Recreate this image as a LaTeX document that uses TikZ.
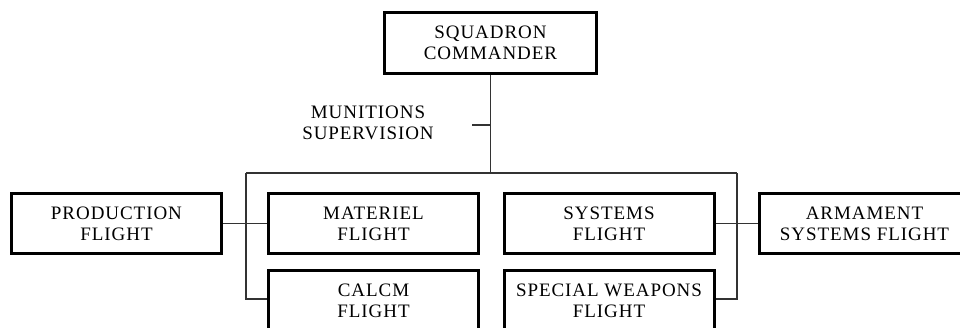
\documentclass[tikz,border=0pt]{standalone}
\usepackage{fontspec}
\setmainfont[LetterSpace=5]{Liberation Serif}
\usetikzlibrary{positioning}

\begin{document}
\begin{tikzpicture}[x=1pt, y=-1pt, font=\fontsize{19}{21}\selectfont,
	box/.style={draw, line width=3pt, minimum width=210pt, minimum height=60pt, inner sep=0pt, align=center},
	wire/.style={draw=black!80, line width=1.4pt}]

\useasboundingbox (0, 0) rectangle (960, 327);
\clip (0, 0) rectangle (960, 327);

%\draw[xstep=10pt,ystep=10pt,color=gray!30] (0, 0) grid (960, 327);

\node[box, minimum width=212pt, minimum height=61pt] (sqn) at (490.5, 43) {SQUADRON\\COMMANDER};

\node[align=center] (muns) at (368, 122.5) {MUNITIONS\\SUPERVISION};

\node[box] (prod) at (116.5, 223.5) {PRODUCTION\\FLIGHT};
\node[box] (matl) at (373.5, 223.5) {MATERIEL\\FLIGHT};
\node[box] (syst) at (609, 223.5) {SYSTEMS\\FLIGHT};
\node[box] (arms) at (864.5, 223.5) {ARMAMENT\\SYSTEMS FLIGHT};

\node[box] (calcm) at (373.5, 300.5) {CALCM\\FLIGHT};
\node[box] (spwf) at (609, 300.5) {SPECIAL WEAPONS\\FLIGHT};

	\coordinate (busL) at (246, 173);
	\coordinate (busR) at (737, 173);
	\coordinate (tick) at (472, 125);

\draw[wire] (sqn.south) -- (sqn.south |- busL);
\draw[wire] (tick) -- (tick -| sqn.south);
\draw[wire] (busL) -- (busR);
\draw[wire] (busL) -- (busL |- 0, 299) -- (calcm.west |- 0, 299);
\draw[wire] (busR) -- (busR |- 0, 299) -- (spwf.east |- 0, 299);
\draw[wire] (prod.east) -- (matl.west);
\draw[wire] (syst.east) -- (arms.west);

\end{tikzpicture}
\end{document}
